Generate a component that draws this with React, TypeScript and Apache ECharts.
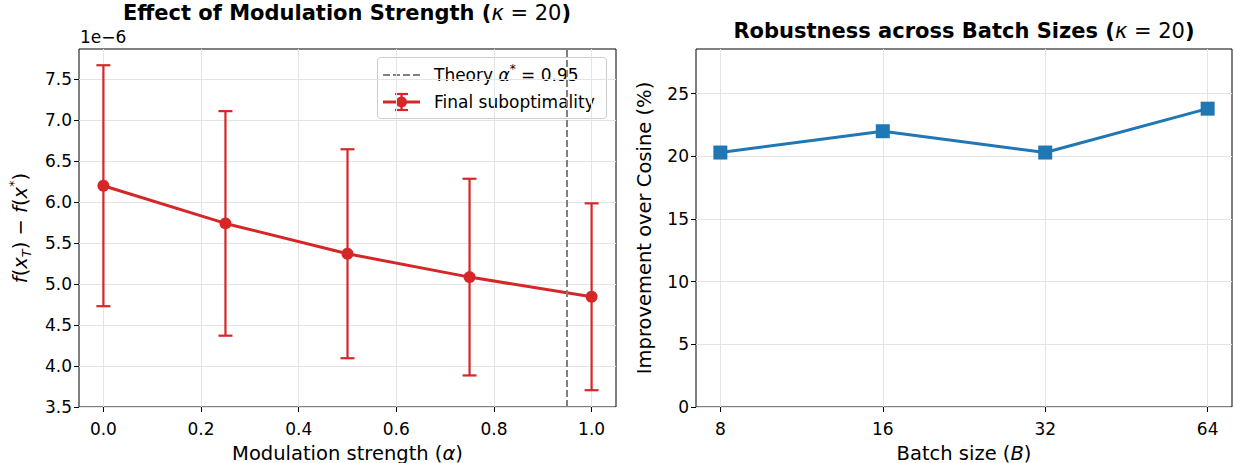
import React, { useEffect, useRef } from 'react';
import * as echarts from 'echarts';

const alphas = [0, 0.25, 0.5, 0.75, 1.0];
const suboptMean = [6.2, 5.74, 5.37, 5.085, 4.845];
const suboptErr = [1.47, 1.37, 1.275, 1.2, 1.14];
const theoryAlpha = 0.95;
const alphaTicks = [0, 0.2, 0.4, 0.6, 0.8, 1.0];
const suboptTicks = [3.5, 4.0, 4.5, 5.0, 5.5, 6.0, 6.5, 7.0, 7.5];
const batchSizes = [8, 16, 32, 64];
const improvement = [20.3, 22.0, 20.3, 23.8];
const improvementTicks = [0, 5, 10, 15, 20, 25];

const FONT = 'DejaVu Sans';
const RED = '#d62728';
const BLUE = '#1f77b4';
const GRID = '#e4e4e4';
const NAME_FS = 19.5;

export default function App() {
  const ref = useRef<HTMLDivElement>(null);
  useEffect(() => {
    if (!ref.current) return;
    const chart = echarts.init(ref.current, null, { renderer: 'svg' });

    const lo = Math.min(...suboptMean.map((m, i) => m - suboptErr[i]));
    const hi = Math.max(...suboptMean.map((m, i) => m + suboptErr[i]));
    const leftYMax = hi + (hi - lo) * 0.05;
    const rightYMax = Math.max(...improvement) * 1.2;
    const logB = batchSizes.map((b) => Math.log2(b));
    const lbMin = Math.min(...logB), lbMax = Math.max(...logB);
    const lbPad = (lbMax - lbMin) * 0.05;

    const tickLabel = { fontFamily: FONT, fontSize: 17, color: '#000' };
    const axisName = { fontFamily: FONT, fontSize: NAME_FS, color: '#000' };
    const italic = { fontFamily: FONT, fontSize: NAME_FS, fontStyle: 'italic', color: '#000' };
    const tickStyle = { show: true, length: 5, lineStyle: { color: '#000', width: 1 } };

    const option: any = {
      animation: false,
      grid: [
        { left: 79, top: 49, width: 537, height: 358, show: true, borderColor: '#000', borderWidth: 1, containLabel: false, outerBoundsMode: 'none' },
        { left: 696, top: 49, width: 536, height: 358, show: true, borderColor: '#000', borderWidth: 1, containLabel: false, outerBoundsMode: 'none' },
      ],
      xAxis: [
        {
          type: 'value', gridIndex: 0, min: -0.05, max: 1.05,
          axisLine: { show: false, onZero: false },
          axisTick: { ...tickStyle, customValues: alphaTicks },
          axisLabel: { ...tickLabel, margin: 13, customValues: alphaTicks, formatter: (v: number) => v.toFixed(1) },
          splitLine: { show: true, lineStyle: { color: GRID, width: 1 } },
          name: 'Modulation strength ({i|α})', nameLocation: 'middle', nameGap: 36,
          nameTextStyle: { ...axisName, rich: { i: italic } },
        },
        {
          type: 'value', gridIndex: 1, min: lbMin - lbPad, max: lbMax + lbPad,
          axisLine: { show: false, onZero: false },
          axisTick: { ...tickStyle, customValues: logB },
          axisLabel: { ...tickLabel, margin: 13, customValues: logB, formatter: (v: number) => String(Math.round(Math.pow(2, v))) },
          splitLine: { show: true, lineStyle: { color: GRID, width: 1 } },
          name: 'Batch size ({i|B})', nameLocation: 'middle', nameGap: 36,
          nameTextStyle: { ...axisName, rich: { i: italic } },
        },
      ],
      yAxis: [
        {
          type: 'value', gridIndex: 0, min: 3.5, max: leftYMax,
          axisLine: { show: false, onZero: false },
          axisTick: { ...tickStyle, customValues: suboptTicks },
          axisLabel: { ...tickLabel, margin: 7, customValues: suboptTicks, formatter: (v: number) => v.toFixed(1) },
          splitLine: { show: true, lineStyle: { color: GRID, width: 1 } },
          name: '{i|f}{r|(}{i|x}{sub|T}{r|) − }{i|f}{r|(}{i|x}{sup|*}{r|)}', nameLocation: 'middle', nameGap: 46, nameRotate: 90,
          nameTextStyle: {
            ...axisName,
            lineHeight: 26,
            rich: {
              i: { ...italic, lineHeight: 26 },
              r: { ...axisName, lineHeight: 26 },
              sub: { fontFamily: FONT, fontSize: 13, fontStyle: 'italic', color: '#000', lineHeight: 13, verticalAlign: 'bottom' },
              sup: { fontFamily: FONT, fontSize: 13, color: '#000', lineHeight: 12, verticalAlign: 'top' },
            },
          },
        },
        {
          type: 'value', gridIndex: 1, min: 0, max: rightYMax,
          axisLine: { show: false, onZero: false },
          axisTick: { ...tickStyle, customValues: improvementTicks },
          axisLabel: { ...tickLabel, margin: 7, customValues: improvementTicks },
          splitLine: { show: true, lineStyle: { color: GRID, width: 1 } },
          name: 'Improvement over Cosine (%)', nameLocation: 'middle', nameGap: 42, nameRotate: 90,
          nameTextStyle: axisName,
        },
      ],
      series: [
        {
          type: 'custom', xAxisIndex: 0, yAxisIndex: 0, z: 3,
          data: alphas.map((a, i) => [a, suboptMean[i] - suboptErr[i], suboptMean[i] + suboptErr[i]]),
          encode: { x: 0, y: [1, 2] },
          renderItem: (params: any, api: any) => {
            const x = api.value(0);
            const pLo = api.coord([x, api.value(1)]);
            const pHi = api.coord([x, api.value(2)]);
            const cw = 7;
            const st = { stroke: RED, lineWidth: 2.2 };
            return {
              type: 'group',
              children: [
                { type: 'line', shape: { x1: pLo[0], y1: pLo[1], x2: pHi[0], y2: pHi[1] }, style: st },
                { type: 'line', shape: { x1: pLo[0] - cw, y1: pLo[1], x2: pLo[0] + cw, y2: pLo[1] }, style: st },
                { type: 'line', shape: { x1: pHi[0] - cw, y1: pHi[1], x2: pHi[0] + cw, y2: pHi[1] }, style: st },
              ],
            };
          },
        },
        {
          type: 'line', xAxisIndex: 0, yAxisIndex: 0, z: 4,
          data: alphas.map((a, i) => [a, suboptMean[i]]),
          symbol: 'circle', symbolSize: 12,
          lineStyle: { color: RED, width: 3 },
          itemStyle: { color: RED },
          markLine: {
            silent: true, symbol: 'none', label: { show: false },
            lineStyle: { color: '#808080', width: 2, type: [7, 3] },
            data: [{ xAxis: theoryAlpha }],
          },
        },
        {
          type: 'line', xAxisIndex: 1, yAxisIndex: 1, z: 4,
          data: logB.map((x, i) => [x, improvement[i]]),
          symbol: 'rect', symbolSize: 14,
          lineStyle: { color: BLUE, width: 3 },
          itemStyle: { color: BLUE },
        },
      ],
      graphic: [
        {
          type: 'text', x: 347, y: 13,
          style: {
            text: '{b|Effect of Modulation Strength (}{i|κ}{r| = 20}{b|)}',
            align: 'center', verticalAlign: 'middle',
            rich: {
              b: { fontFamily: FONT, fontSize: 21, fontWeight: 'bold', fill: '#000' },
              i: { fontFamily: FONT, fontSize: 21, fontStyle: 'italic', fill: '#000' },
              r: { fontFamily: FONT, fontSize: 21, fill: '#000' },
            },
          },
        },
        {
          type: 'text', x: 964, y: 31,
          style: {
            text: '{b|Robustness across Batch Sizes (}{i|κ}{r| = 20}{b|)}',
            align: 'center', verticalAlign: 'middle',
            rich: {
              b: { fontFamily: FONT, fontSize: 21, fontWeight: 'bold', fill: '#000' },
              i: { fontFamily: FONT, fontSize: 21, fontStyle: 'italic', fill: '#000' },
              r: { fontFamily: FONT, fontSize: 21, fill: '#000' },
            },
          },
        },
        {
          type: 'text', x: 80, y: 37,
          style: { text: '1e−6', fontFamily: FONT, fontSize: 17, fill: '#000', align: 'left', verticalAlign: 'middle' },
        },
        {
          type: 'group', x: 0, y: 0, z: 100,
          children: [
            { type: 'rect', shape: { x: 377.5, y: 57.5, width: 229, height: 61, r: 3 }, style: { fill: 'rgba(255,255,255,0.85)', stroke: '#cccccc', lineWidth: 1 } },
            { type: 'line', shape: { x1: 383, y1: 75, x2: 420, y2: 75 }, style: { stroke: '#808080', lineWidth: 2, lineDash: [7, 3] } },
            {
              type: 'text', x: 434, y: 75,
              style: {
                text: '{r|Theory }{i|α}{s|*}{r| = 0.95}', verticalAlign: 'middle',
                rich: {
                  r: { fontFamily: FONT, fontSize: 17, fill: '#000', lineHeight: 24 },
                  i: { fontFamily: FONT, fontSize: 17, fontStyle: 'italic', fill: '#000', lineHeight: 24 },
                  s: { fontFamily: FONT, fontSize: 12, fill: '#000', lineHeight: 12, verticalAlign: 'top' },
                },
              },
            },
            { type: 'line', shape: { x1: 383, y1: 102, x2: 420, y2: 102 }, style: { stroke: RED, lineWidth: 3 } },
            { type: 'line', shape: { x1: 401.5, y1: 94, x2: 401.5, y2: 110 }, style: { stroke: RED, lineWidth: 2.2 } },
            { type: 'line', shape: { x1: 395, y1: 94, x2: 408, y2: 94 }, style: { stroke: RED, lineWidth: 2.2 } },
            { type: 'line', shape: { x1: 395, y1: 110, x2: 408, y2: 110 }, style: { stroke: RED, lineWidth: 2.2 } },
            { type: 'circle', shape: { cx: 401.5, cy: 102, r: 5.5 }, style: { fill: RED } },
            { type: 'text', x: 434, y: 102, style: { text: 'Final suboptimality', fontFamily: FONT, fontSize: 17, fill: '#000', verticalAlign: 'middle' } },
          ],
        },
      ],
    };
    chart.setOption(option);
    return () => chart.dispose();
  }, []);
  return <div ref={ref} style={{ position: 'fixed', left: 0, top: 0, width: 1233, height: 463, background: '#fff' }} />;
}
